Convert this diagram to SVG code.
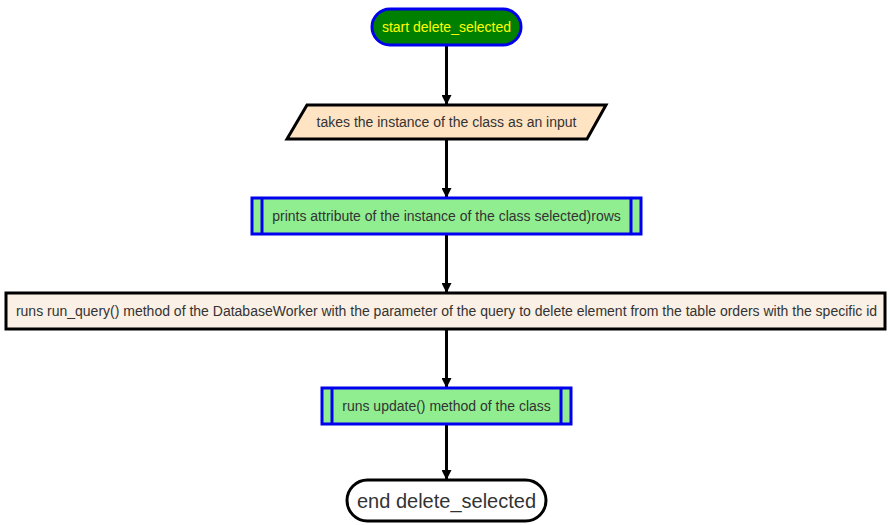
<svg xmlns="http://www.w3.org/2000/svg" width="890" height="525" viewBox="0 0 890 525">
<style>
text{font-family:"Liberation Sans",Arial,sans-serif;font-size:14px;fill:#333;text-anchor:middle;dominant-baseline:central}
.sub{fill:#90EE90;stroke:#0000EE;stroke-width:3}
.edge{stroke:#000;stroke-width:3;fill:none;marker-end:url(#ah)}
</style>
<defs>
<marker id="ah" markerWidth="10" markerHeight="10" refX="9" refY="5" orient="auto" markerUnits="userSpaceOnUse">
<path d="M0,0 L10,5 L0,10 Z" fill="#000"/>
</marker>
</defs>
<rect width="890" height="525" fill="#fff"/>
<g id="connectors">
<line class="edge" x1="446.5" y1="46" x2="446.5" y2="104"/>
<line class="edge" x1="446.5" y1="140" x2="446.5" y2="197"/>
<line class="edge" x1="446.5" y1="235" x2="446.5" y2="292"/>
<line class="edge" x1="446.5" y1="330" x2="446.5" y2="387"/>
<line class="edge" x1="446.5" y1="425" x2="446.5" y2="479"/>
</g>
<g id="start">
<rect x="372" y="9" width="149" height="36" rx="18" fill="#008000" stroke="#0000EE" stroke-width="3"/>
<text x="446.5" y="27" style="fill:#FFFF00">start delete_selected</text>
</g>
<g id="input">
<polygon points="307,105 606,105 587,139 287,139" fill="#FFE4C4" stroke="#000" stroke-width="3"/>
<text x="446.5" y="122">takes the instance of the class as an input</text>
</g>
<g id="print">
<rect class="sub" x="252" y="198" width="389" height="36"/>
<line x1="262" y1="198" x2="262" y2="234" stroke="#0000EE" stroke-width="3"/>
<line x1="631" y1="198" x2="631" y2="234" stroke="#0000EE" stroke-width="3"/>
<text x="446.5" y="216">prints attribute of the instance of the class selected)rows</text>
</g>
<g id="runquery">
<rect x="6" y="293" width="879" height="36" fill="#FAF0E6" stroke="#000" stroke-width="3"/>
<text x="446.5" y="311">runs run_query() method of the DatabaseWorker with the parameter of the query to delete element from the table orders with the specific id</text>
</g>
<g id="update">
<rect class="sub" x="322" y="388" width="249" height="36"/>
<line x1="332" y1="388" x2="332" y2="424" stroke="#0000EE" stroke-width="3"/>
<line x1="561" y1="388" x2="561" y2="424" stroke="#0000EE" stroke-width="3"/>
<text x="446.5" y="406">runs update() method of the class</text>
</g>
<g id="end">
<rect x="347" y="480" width="199" height="41" rx="20.5" fill="#fff" stroke="#000" stroke-width="3"/>
<text x="446.5" y="500.5" style="font-size:20px">end delete_selected</text>
</g>
</svg>
